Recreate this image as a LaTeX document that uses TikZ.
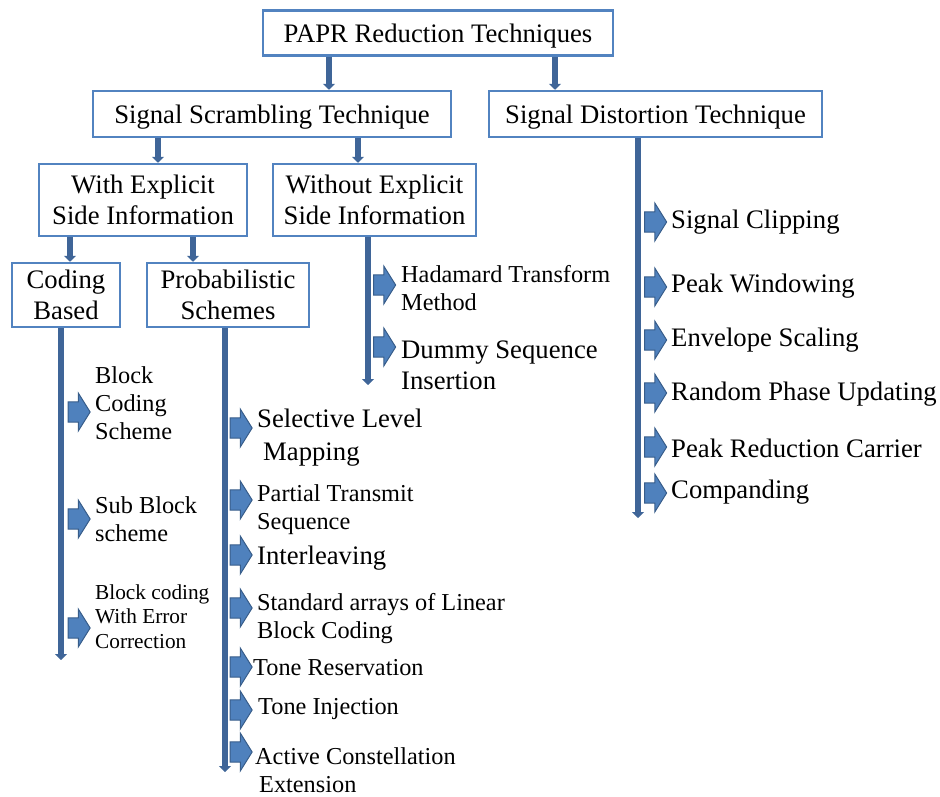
\documentclass[tikz,border=0pt]{standalone}
\usepackage{fontspec}
\setmainfont{Liberation Serif}
\usetikzlibrary{arrows.meta,shapes.arrows}

\definecolor{boxblue}{HTML}{5283C0}
\definecolor{trunkblue}{HTML}{3F6598}
\definecolor{tipfill}{HTML}{4F81BD}
\definecolor{tipline}{HTML}{385D8A}

\newcommand{\fontbig}{\fontsize{26.7}{31}\selectfont}
\newcommand{\fontmid}{\fontsize{24.3}{28}\selectfont}
\newcommand{\fontsmall}{\fontsize{21.3}{24.5}\selectfont}

\tikzset{
  box/.style={rectangle, draw=boxblue, line width=2.5pt, fill=white, align=center, inner sep=0pt, font=\fontbig},
  link/.style={trunkblue, line width=6pt, -{Triangle[length=6pt,width=12pt]}},
  pointer/.style={single arrow, draw=tipline, fill=tipfill, line width=1pt, minimum height=22pt, minimum width=38pt, single arrow tip angle=116, inner xsep=0pt, inner ysep=7.5pt},
  item/.style={anchor=west, align=left, inner sep=0pt, font=\fontbig}
}

\begin{document}
\begin{tikzpicture}[x=1pt,y=-1pt]
\useasboundingbox (0,0) rectangle (940,796);

% tree boxes
\node[box, text depth=0pt, minimum width=350pt, minimum height=45pt] (root) at (438,33) {PAPR Reduction Techniques};
\node[box, text depth=0pt, minimum width=358pt, minimum height=46pt] (sst) at (272,114) {Signal Scrambling Technique};
\node[box, text depth=0pt, minimum width=333pt, minimum height=46pt] (sdt) at (655.5,114) {Signal Distortion Technique};
\node[box, minimum width=208pt, minimum height=72pt] (we) at (143,200) {With Explicit\\Side Information};
\node[box, minimum width=203pt, minimum height=72pt] (woe) at (374.5,200) {Without Explicit\\Side Information};
\node[box, minimum width=108pt, minimum height=64pt] (cb) at (66,295) {Coding\\Based};
\node[box, minimum width=162pt, minimum height=64pt] (ps) at (228,295) {Probabilistic\\Schemes};

% links between boxes
\draw[link] ([xshift=-109pt]root.south) -- ([xshift=-109pt]root.south |- sst.north);
\draw[link] ([xshift=117pt]root.south) -- ([xshift=117pt]root.south |- sdt.north);
\draw[link] ([xshift=-114pt]sst.south) -- ([xshift=-114pt]sst.south |- we.north);
\draw[link] ([xshift=86pt]sst.south) -- ([xshift=86pt]sst.south |- woe.north);
\draw[link] ([xshift=-73pt]we.south) -- ([xshift=-73pt]we.south |- cb.north);
\draw[link] ([xshift=50pt]we.south) -- ([xshift=50pt]we.south |- ps.north);

% trunks
\coordinate (cbend) at (61,660);
\coordinate (psend) at (225,772);
\coordinate (woeend) at (368,385);
\coordinate (sdtend) at (638,518);
\draw[link] (cb.south -| cbend) -- (cbend);
\draw[link] (ps.south -| psend) -- (psend);
\draw[link] (woe.south -| woeend) -- (woeend);
\draw[link] (sdt.south -| sdtend) -- (sdtend);

% coding based
\node[pointer] (p1) at (76,412) {};
\node[pointer] (p2) at (76,519) {};
\node[pointer] (p3) at (76,628) {};
\node[item, font=\fontmid] (bcs) at (95,403.5) {Block\\Coding\\Scheme};
\node[item, font=\fontmid] (sbs) at (95,519.5) {Sub Block\\scheme};
\node[item, font=\fontsmall] (bcec) at (95,616.5) {Block coding\\With Error\\Correction};

% probabilistic schemes
\node[pointer] (p4) at (238,428) {};
\node[pointer] (p5) at (238,500) {};
\node[pointer] (p6) at (238,555) {};
\node[pointer] (p7) at (238,608) {};
\node[pointer] (p8) at (238,667) {};
\node[pointer] (p9) at (238,710) {};
\node[pointer] (p10) at (238,752) {};
\node[item, font=\fontsize{26.7}{33}\selectfont] (slm) at (257,437.5) {Selective Level\\\hspace*{6pt}Mapping};
\node[item, font=\fontmid] (pts) at (257,509.5) {Partial Transmit\\Sequence};
\node[item] (il) at (257,558) {Interleaving};
\node[item, font=\fontmid] (sal) at (257,619) {Standard arrays of Linear\\Block Coding};
\node[item, font=\fontmid] (tr) at (253,668) {Tone Reservation};
\node[item, font=\fontmid] (ti) at (258,709) {Tone Injection};
\node[item, font=\fontmid] (ace) at (255,770) {Active Constellation\\\hspace*{4pt}Extension};

% without explicit side information
\node[pointer] (p11) at (381.5,285) {};
\node[pointer] (p12) at (381.5,347) {};
\node[item, font=\fontmid] (htm) at (401,288) {Hadamard Transform\\Method};
\node[item] (dsi) at (401,365.5) {Dummy Sequence\\Insertion};

% signal distortion
\node[pointer] (p13) at (652.5,222) {};
\node[pointer] (p14) at (652.5,287) {};
\node[pointer] (p15) at (652.5,340) {};
\node[pointer] (p16) at (652.5,393) {};
\node[pointer] (p17) at (652.5,447) {};
\node[pointer] (p18) at (652.5,493) {};
\node[item] (sc) at (671,222) {Signal Clipping};
\node[item] (pw) at (671,286) {Peak Windowing};
\node[item] (es) at (671,340) {Envelope Scaling};
\node[item] (rpu) at (671,394) {Random Phase Updating};
\node[item] (prc) at (671,448) {Peak Reduction Carrier};
\node[item] (cmp) at (671,492) {Companding};
\end{tikzpicture}
\end{document}
